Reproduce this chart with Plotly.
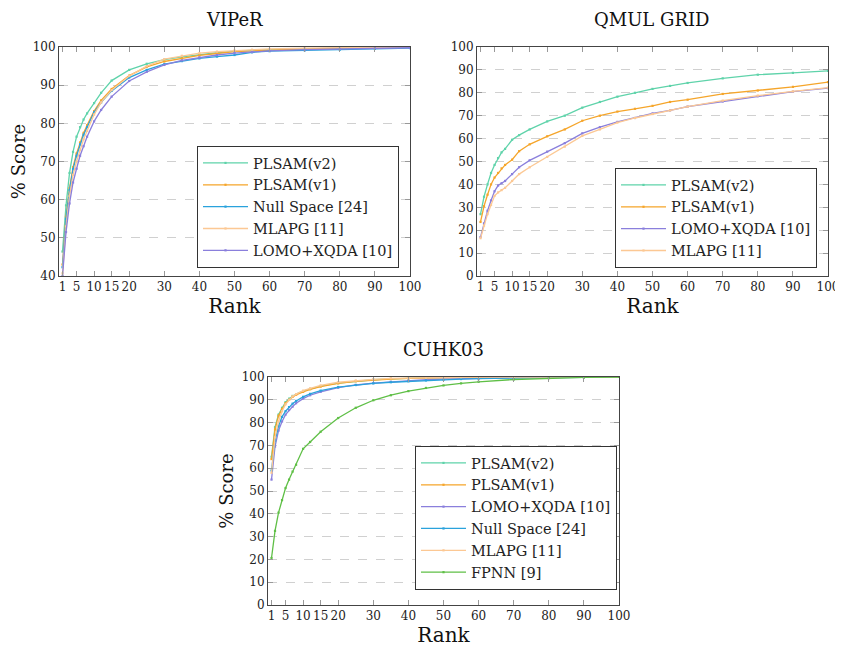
import plotly.graph_objects as go

# ---------------- data ----------------
ranks = [1, 2, 3, 4, 5, 6, 7, 8, 10, 12, 15, 20, 25, 30, 35, 40, 45, 50, 55, 60, 70, 80, 90, 100]
x_tickvals = [1, 5, 10, 15, 20, 30, 40, 50, 60, 70, 80, 90, 100]

# VIPeR
viper_plsam_v2 = [46.4, 58.5, 67.0, 72.5, 76.5, 79.0, 81.0, 82.6, 85.3, 88.0, 91.2, 94.0, 95.6, 96.7, 97.4, 98.0, 98.5, 98.9, 99.1, 99.3, 99.5, 99.7, 99.8, 100.0]
viper_plsam_v1 = [43.0, 55.5, 63.0, 68.5, 72.1, 75.0, 77.5, 79.5, 83.2, 86.0, 89.0, 92.5, 94.8, 96.2, 97.0, 97.8, 98.3, 98.8, 99.0, 99.2, 99.5, 99.7, 99.8, 99.9]
viper_null = [42.3, 55.0, 62.5, 68.0, 71.5, 74.5, 77.0, 79.0, 82.9, 85.5, 88.5, 92.0, 94.0, 95.5, 96.3, 97.0, 97.5, 97.9, 98.6, 98.9, 99.1, 99.3, 99.5, 99.7]
viper_mlapg = [40.7, 53.0, 61.0, 66.5, 70.0, 73.0, 75.8, 78.0, 82.3, 85.5, 88.7, 92.4, 95.0, 96.8, 97.7, 98.4, 98.8, 99.1, 99.3, 99.5, 99.7, 99.8, 99.9, 100.0]
viper_lomo = [40.0, 51.5, 59.0, 64.5, 68.1, 71.5, 74.0, 76.5, 80.5, 83.5, 87.0, 91.1, 93.5, 95.3, 96.5, 97.3, 97.9, 98.4, 98.7, 99.0, 99.3, 99.5, 99.7, 99.8]

# QMUL GRID
grid_plsam_v2 = [27.0, 34.6, 40.0, 45.0, 48.5, 51.5, 54.0, 55.5, 59.5, 61.5, 64.0, 67.5, 70.0, 73.5, 76.0, 78.3, 80.0, 81.7, 83.0, 84.3, 86.3, 87.9, 88.7, 89.6]
grid_plsam_v1 = [23.6, 30.5, 35.5, 40.0, 43.0, 45.0, 47.0, 48.5, 50.8, 54.5, 57.5, 61.0, 64.0, 67.8, 70.0, 71.8, 73.0, 74.3, 76.0, 77.0, 79.5, 81.0, 82.6, 84.7]
grid_lomo = [17.0, 23.0, 28.5, 33.0, 37.0, 39.5, 40.5, 41.5, 44.5, 47.5, 50.5, 54.3, 58.0, 62.3, 65.0, 67.3, 69.0, 71.0, 72.3, 74.0, 76.2, 78.5, 80.5, 82.0]
grid_mlapg = [16.5, 22.0, 27.0, 31.0, 35.0, 36.5, 37.5, 38.5, 41.5, 44.5, 47.5, 52.0, 56.5, 61.2, 64.0, 67.0, 69.0, 70.7, 72.3, 74.0, 76.6, 78.8, 80.6, 82.3]

# CUHK03
cuhk_plsam_v2 = [65.0, 78.0, 83.5, 86.5, 89.0, 90.5, 91.7, 92.5, 93.8, 94.8, 96.0, 97.3, 98.2, 98.8, 99.2, 99.5, 99.6, 99.7, 99.8, 99.9, 100.0, 100.0, 100.0, 100.0]
cuhk_plsam_v1 = [64.0, 77.0, 83.0, 86.0, 88.5, 90.0, 91.3, 92.2, 93.5, 94.6, 95.8, 97.2, 98.1, 98.7, 99.1, 99.4, 99.6, 99.7, 99.8, 99.9, 100.0, 100.0, 100.0, 100.0]
cuhk_lomo = [55.0, 69.5, 76.5, 80.5, 83.5, 85.5, 87.0, 88.5, 90.5, 92.0, 93.5, 95.3, 96.5, 97.3, 97.9, 98.4, 98.8, 99.1, 99.3, 99.5, 99.7, 99.9, 100.0, 100.0]
cuhk_null = [59.0, 72.0, 78.5, 82.5, 85.0, 86.8, 88.3, 89.5, 91.3, 92.6, 94.0, 95.6, 96.5, 97.2, 97.7, 98.1, 98.5, 98.8, 99.1, 99.3, 99.6, 99.8, 99.9, 100.0]
cuhk_mlapg = [58.0, 73.5, 80.5, 85.0, 88.0, 90.0, 91.5, 92.5, 94.0, 95.0, 96.3, 97.7, 98.5, 99.0, 99.4, 99.6, 99.7, 99.8, 99.9, 100.0, 100.0, 100.0, 100.0, 100.0]
cuhk_fpnn = [20.6, 32.5, 40.5, 46.0, 51.3, 55.0, 58.5, 61.5, 68.5, 71.5, 76.0, 82.0, 86.5, 89.8, 92.0, 93.8, 95.2, 96.3, 97.2, 97.9, 98.9, 99.5, 99.8, 100.0]

# ---------------- styles ----------------
C_V2 = "#5fd3aa"
C_V1 = "#f5a52a"
C_NULL = "#2aa2dc"
C_MLAPG = "#fcc894"
C_LOMO = "#8a7fdc"
C_FPNN = "#5fbf46"

SERIF = "DejaVu Serif"
OFF = 8                      # page body margin
W, H = 843 - OFF, 647 - OFF  # figure size that fits the window

def px(xr):   # window x pixel -> paper fraction
    return (xr - OFF) / W

def py(yr):   # window y pixel (from top) -> paper fraction
    return 1 - (yr - OFF) / H

fig = go.Figure()

def add(y, name, color, xa, ya, legend):
    fig.add_trace(go.Scatter(
        x=ranks, y=y, name=name, mode="lines+markers",
        line=dict(color=color, width=1.3),
        marker=dict(color=color, size=2.2, symbol="square"),
        xaxis=xa, yaxis=ya, legend=legend,
    ))

add(viper_plsam_v2, "PLSAM(v2)", C_V2, "x", "y", "legend")
add(viper_plsam_v1, "PLSAM(v1)", C_V1, "x", "y", "legend")
add(viper_null, "Null Space [24]", C_NULL, "x", "y", "legend")
add(viper_mlapg, "MLAPG [11]", C_MLAPG, "x", "y", "legend")
add(viper_lomo, "LOMO+XQDA [10]", C_LOMO, "x", "y", "legend")

add(grid_plsam_v2, "PLSAM(v2)", C_V2, "x2", "y2", "legend2")
add(grid_plsam_v1, "PLSAM(v1)", C_V1, "x2", "y2", "legend2")
add(grid_lomo, "LOMO+XQDA [10]", C_LOMO, "x2", "y2", "legend2")
add(grid_mlapg, "MLAPG [11]", C_MLAPG, "x2", "y2", "legend2")

add(cuhk_plsam_v2, "PLSAM(v2)", C_V2, "x3", "y3", "legend3")
add(cuhk_plsam_v1, "PLSAM(v1)", C_V1, "x3", "y3", "legend3")
add(cuhk_lomo, "LOMO+XQDA [10]", C_LOMO, "x3", "y3", "legend3")
add(cuhk_null, "Null Space [24]", C_NULL, "x3", "y3", "legend3")
add(cuhk_mlapg, "MLAPG [11]", C_MLAPG, "x3", "y3", "legend3")
add(cuhk_fpnn, "FPNN [9]", C_FPNN, "x3", "y3", "legend3")

tickfont = dict(family=SERIF, size=12, color="#222")

def xax(x0, x1, y_anchor):
    return dict(domain=[px(x0), px(x1)], range=[0, 100], anchor=y_anchor, automargin=False,
                tickvals=x_tickvals, ticks="inside", ticklen=5, tickcolor="#999",
                showline=True, linecolor="#444", linewidth=1, mirror="ticks",
                showgrid=False, zeroline=False, tickfont=tickfont,
                title=dict(text="Rank", font=dict(family=SERIF, size=20, color="#111"), standoff=4))

def yax(y0, y1, lo, x_anchor, title):
    d = dict(domain=[py(y1), py(y0)], range=[lo, 100], anchor=x_anchor, automargin=False,
             dtick=10, ticks="inside", ticklen=5, tickcolor="#999",
             showline=True, linecolor="#444", linewidth=1, mirror="ticks",
             showgrid=True, gridcolor="#d0d0d0", griddash="dash", gridwidth=1,
             zeroline=False, tickfont=tickfont)
    if title:
        d["title"] = dict(text="% Score", font=dict(family=SERIF, size=18, color="#111"), standoff=3)
    return d

legfont = dict(family=SERIF, size=14.5, color="#222")
def leg(xr, yb):
    return dict(x=px(xr), y=py(yb), xanchor="right", yanchor="bottom",
                bgcolor="white", bordercolor="#333", borderwidth=1, font=legfont,
                itemwidth=45, tracegroupgap=0)

def title(text, xr, ytop):
    return dict(text=text, x=px(xr), y=py(ytop), xref="paper", yref="paper",
                xanchor="center", yanchor="top", showarrow=False, borderpad=0,
                font=dict(family=SERIF, size=18, color="#111"))

fig.update_layout(
    template="none",
    width=W, height=H, margin=dict(l=0, r=0, t=0, b=0, autoexpand=False),
    paper_bgcolor="white", plot_bgcolor="white",
    xaxis=xax(59, 410, "y"), yaxis=yax(47, 276, 40, "x", True),
    xaxis2=xax(477, 828, "y2"), yaxis2=yax(47, 276, 0, "x2", False),
    xaxis3=xax(268, 619, "y3"), yaxis3=yax(377, 605, 0, "x3", True),
    legend=leg(399, 268), legend2=leg(817, 268), legend3=leg(617, 590),
    showlegend=True,
    annotations=[
        title("VIPeR", 234, 8),
        title("QMUL GRID", 652, 8),
        title("CUHK03", 443, 338),
    ],
)

fig.write_html("out.html")
